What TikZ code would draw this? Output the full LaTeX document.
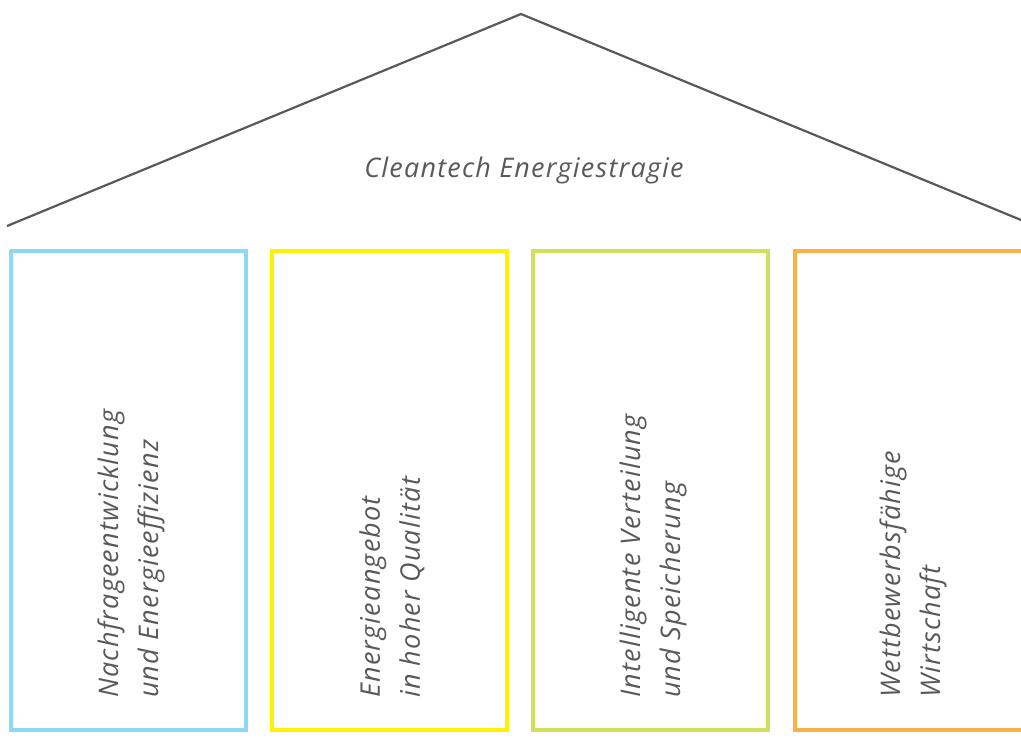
\documentclass[tikz,border=0pt]{standalone}
\usepackage{fontspec}
\setmainfont{Open Sans}
\definecolor{txtgrey}{RGB}{88,89,91}
\definecolor{pblue}{RGB}{143,216,243}
\definecolor{pyellow}{RGB}{255,242,0}
\definecolor{pgreen}{RGB}{208,224,92}
\definecolor{porange}{RGB}{251,176,72}
\newcommand{\spfont}[2]{\fontsize{#1}{#2}\selectfont\itshape\addfontfeature{LetterSpace=4.5}}
\begin{document}
\begin{tikzpicture}[x=1pt,y=-1pt,
  pillar/.style={draw, line width=4pt, minimum width=235pt, minimum height=479pt, inner sep=0pt, outer sep=0pt, anchor=north west},
  plabel/.style={rotate=90, anchor=west, align=left, inner sep=0pt, text=txtgrey,
    font=\spfont{27}{40}},
  rooftext/.style={text=txtgrey, font=\spfont{27}{30}, inner sep=0pt},
  roofline/.style={draw=txtgrey, line width=2.2pt}]
\useasboundingbox (0,0) rectangle (1021,740);
\clip (0,0) rectangle (1021,740);
% roof
\coordinate (rl) at (7,226);
\coordinate (apex) at (521,14);
\coordinate (rr) at (1040,227.8);
\draw[roofline] (rl) -- (apex) -- (rr);
\node[rooftext] (title) at (524,170) {Cleantech Energiestragie};
% pillars
\node[pillar, draw=pblue] (p1) at (10.5,251) {};
\node[pillar, draw=pyellow] (p2) at (272,251) {};
\node[pillar, draw=pgreen] (p3) at (533,251) {};
\node[pillar, draw=porange] (p4) at (795,251) {};
% labels
\node[plabel] (l1) at (131,698) {Nachfrageentwicklung\\und Energieeffizienz};
\node[plabel] (l2) at (392,698) {Energieangebot\\in hoher Qualität};
\node[plabel] (l3) at (653,698) {Intelligente Verteilung\\und Speicherung};
\node[plabel] (l4) at (913,698) {Wettbewerbsfähige\\Wirtschaft};
\end{tikzpicture}
\end{document}
